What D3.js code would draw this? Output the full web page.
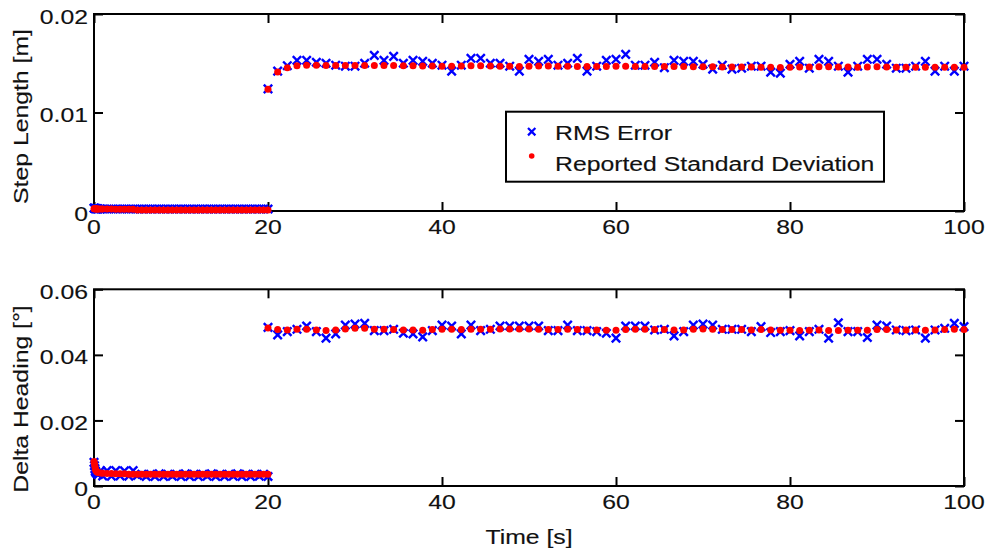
<!DOCTYPE html>
<html>
<head>
<meta charset="utf-8">
<script src="https://cdn.jsdelivr.net/npm/d3@7"></script>
<style>
  body { margin: 0; background: #fff; }
  text { font-family: "Liberation Sans", Arial, Helvetica, sans-serif; font-size: 21px; fill: #111; stroke: #111; stroke-width: 0.15px; }
</style>
</head>
<body>
<svg id="chart" width="989" height="554"></svg>
<script>
// ---- data ----
// dense start-up phase, 0..20 s
var timesStart = [0, 0.05, 0.1, 0.15, 0.2, 0.3, 0.4, 0.5, 0.75, 1,
  1.5, 2, 2.5, 3, 3.5, 4, 4.5, 5, 5.5, 6,
  6.5, 7, 7.5, 8, 8.5, 9, 9.5, 10, 10.5, 11,
  11.5, 12, 12.5, 13, 13.5, 14, 14.5, 15, 15.5, 16,
  16.5, 17, 17.5, 18, 18.5, 19, 19.5, 20];
// walking phase, one step every ~1.11 s
var timesWalk = [20, 21.11, 22.22, 23.33, 24.44, 25.56, 26.67, 27.78, 28.89, 30,
  31.11, 32.22, 33.33, 34.44, 35.56, 36.67, 37.78, 38.89, 40, 41.11,
  42.22, 43.33, 44.44, 45.56, 46.67, 47.78, 48.89, 50, 51.11, 52.22,
  53.33, 54.44, 55.56, 56.67, 57.78, 58.89, 60, 61.11, 62.22, 63.33,
  64.44, 65.56, 66.67, 67.78, 68.89, 70, 71.11, 72.22, 73.33, 74.44,
  75.56, 76.67, 77.78, 78.89, 80, 81.11, 82.22, 83.33, 84.44, 85.56,
  86.67, 87.78, 88.89, 90, 91.11, 92.22, 93.33, 94.44, 95.56, 96.67,
  97.78, 98.89, 100];

// step length [m]
var stepRmsStart = [0.0003, 0.00028, 0.00026, 0.00025, 0.00024, 0.00023, 0.00022, 0.00022, 0.00021, 0.00021,
  0.0002, 0.00021, 0.0002, 0.0002, 0.00021, 0.0002, 0.0002, 0.0002, 0.00021, 0.0002,
  0.0002, 0.0002, 0.00021, 0.0002, 0.0002, 0.0002, 0.0002, 0.00021, 0.0002, 0.0002,
  0.0002, 0.0002, 0.00021, 0.0002, 0.0002, 0.0002, 0.0002, 0.0002, 0.00021, 0.0002,
  0.0002, 0.0002, 0.0002, 0.0002, 0.00021, 0.0002, 0.0002, 0.0002];
var stepStdStart = [0.00024, 0.00023, 0.00022, 0.00022, 0.00022, 0.00021, 0.00021, 0.0002, 0.0002, 0.0002,
  0.0002, 0.0002, 0.00019, 0.00019, 0.00019, 0.00018, 0.00018, 0.00011, 0.0001, 0.0001,
  0.0001, 0.0001, 0.0001, 0.0001, 0.0001, 0.0001, 0.0001, 0.0001, 0.0001, 0.0001,
  0.0001, 0.0001, 0.0001, 0.0001, 0.0001, 0.0001, 0.0001, 0.0001, 0.0001, 0.0001,
  0.0001, 0.0001, 0.0001, 0.0001, 0.0001, 0.0001, 0.0001, 0.0001];
var stepRmsWalk = [0.0124, 0.0142, 0.01475, 0.0153, 0.0153, 0.0151, 0.0150, 0.0148, 0.0147, 0.0147,
  0.0150, 0.0158, 0.0153, 0.0157, 0.0150, 0.0153, 0.0152, 0.0150, 0.0148, 0.0142,
  0.0148, 0.0155, 0.0155, 0.0150, 0.0150, 0.0147, 0.0142, 0.0154, 0.0152, 0.0154,
  0.0148, 0.0150, 0.0155, 0.0142, 0.0147, 0.0153, 0.0154, 0.0159, 0.0148, 0.0148,
  0.0151, 0.01455, 0.0153, 0.0152, 0.0152, 0.0149, 0.0144, 0.0148, 0.0144, 0.0145,
  0.0147, 0.0147, 0.0141, 0.0140, 0.0149, 0.0152, 0.0145, 0.0154, 0.0152, 0.0147,
  0.0141, 0.0147, 0.0154, 0.0154, 0.0149, 0.0145, 0.0145, 0.0147, 0.0152, 0.0142,
  0.0147, 0.0142, 0.0147];
var stepStdWalk = [0.01236, 0.0141, 0.01455, 0.01475, 0.0148, 0.0148, 0.01478, 0.01478, 0.01476, 0.01476,
  0.01476, 0.01478, 0.01478, 0.01476, 0.01474, 0.01474, 0.01472, 0.01472, 0.0147, 0.0147,
  0.01472, 0.01474, 0.01474, 0.01472, 0.0147, 0.0147, 0.01468, 0.0147, 0.01472, 0.01472,
  0.0147, 0.0147, 0.01468, 0.01468, 0.01468, 0.01468, 0.0147, 0.0147, 0.01468, 0.01466,
  0.01466, 0.01466, 0.01466, 0.01466, 0.01464, 0.01464, 0.01464, 0.01462, 0.01462, 0.01462,
  0.01462, 0.0146, 0.0146, 0.01458, 0.0146, 0.01462, 0.01462, 0.01464, 0.01464, 0.01462,
  0.01462, 0.0146, 0.01462, 0.01464, 0.01462, 0.0146, 0.0146, 0.0146, 0.0146, 0.0146,
  0.0146, 0.0146, 0.0146];

// delta heading [deg]
var headRmsStart = [0.0072, 0.0062, 0.0053, 0.0046, 0.0042, 0.0039, 0.0037, 0.0035, 0.0046, 0.0031,
  0.0047, 0.0030, 0.0047, 0.0031, 0.0046, 0.0030, 0.0047, 0.0032, 0.0036, 0.0029,
  0.0036, 0.0029, 0.0037, 0.0029, 0.0036, 0.0030, 0.0036, 0.0029, 0.0037, 0.0029,
  0.0036, 0.0029, 0.0036, 0.0030, 0.0037, 0.0029, 0.0036, 0.0029, 0.0036, 0.0030,
  0.0037, 0.0029, 0.0036, 0.0029, 0.0036, 0.0030, 0.0036, 0.0029];
var headStdStart = [0.0075, 0.0068, 0.0060, 0.0053, 0.0048, 0.0044, 0.0042, 0.0041, 0.0040, 0.0039,
  0.0038, 0.0038, 0.0037, 0.0037, 0.0037, 0.0036, 0.0036, 0.0036, 0.0036, 0.0036,
  0.0036, 0.0036, 0.0036, 0.0036, 0.0036, 0.0036, 0.0036, 0.0036, 0.0036, 0.0036,
  0.0036, 0.0036, 0.0036, 0.0036, 0.0036, 0.0036, 0.0036, 0.0036, 0.0036, 0.0036,
  0.0036, 0.0036, 0.0036, 0.0036, 0.0036, 0.0036, 0.0036, 0.0036];
var headRmsWalk = [0.0484, 0.0461, 0.0471, 0.0478, 0.0488, 0.0471, 0.0451, 0.0464, 0.0491, 0.0494,
  0.0496, 0.0474, 0.0474, 0.0478, 0.0466, 0.0464, 0.0455, 0.0474, 0.0491, 0.0488,
  0.0464, 0.0491, 0.0474, 0.0478, 0.0488, 0.0488, 0.0488, 0.0488, 0.0488, 0.0474,
  0.0474, 0.0491, 0.0474, 0.0474, 0.0471, 0.0466, 0.0451, 0.0488, 0.0488, 0.0488,
  0.0476, 0.0478, 0.0458, 0.0471, 0.0491, 0.0494, 0.0491, 0.0478, 0.0478, 0.0478,
  0.0471, 0.0486, 0.0468, 0.0471, 0.0474, 0.0458, 0.0471, 0.0478, 0.0451, 0.0498,
  0.0471, 0.0471, 0.0453, 0.0491, 0.0488, 0.0476, 0.0474, 0.0476, 0.0451, 0.0476,
  0.0481, 0.0496, 0.0486];
var headStdWalk = [0.0482, 0.0477, 0.0476, 0.0478, 0.0478, 0.0476, 0.0474, 0.0476, 0.0479, 0.0481,
  0.0481, 0.0478, 0.0478, 0.0477, 0.0476, 0.0476, 0.0475, 0.0477, 0.0478, 0.0478,
  0.0477, 0.0478, 0.0478, 0.0478, 0.0479, 0.0479, 0.0479, 0.0479, 0.0478, 0.0477,
  0.0477, 0.0478, 0.0477, 0.0476, 0.0476, 0.0475, 0.0475, 0.0477, 0.0478, 0.0478,
  0.0477, 0.0477, 0.0476, 0.0476, 0.0478, 0.0479, 0.0478, 0.0477, 0.0477, 0.0477,
  0.0476, 0.0477, 0.0476, 0.0475, 0.0475, 0.0474, 0.0475, 0.0476, 0.0474, 0.0474,
  0.0475, 0.0475, 0.0475, 0.0477, 0.0477, 0.0476, 0.0476, 0.0476, 0.0475, 0.0476,
  0.0477, 0.0478, 0.0477];

var xTicks = [0, 20, 40, 60, 80, 100];
var stepTicks = [0, 0.01, 0.02];
var headTicks = [0, 0.02, 0.04, 0.06];
var legendLabels = ["RMS Error", "Reported Standard Deviation"];

// ---- layout ----
var svg = d3.select("#chart");
var stretch = 1.18; // the original font is wider than Arial
var xScale = d3.scaleLinear().domain([0, 100]).range([94, 964]);
var yStep = d3.scaleLinear().domain([0, 0.02]).range([211, 14]);
var yHead = d3.scaleLinear().domain([0, 0.06]).range([486, 289.3]);

function pairs(t, v) { return t.map(function (d, i) { return [d, v[i]]; }); }

function label(x, y, txt, anchor, rot) {
  svg.append("text")
    .attr("transform", "translate(" + x + "," + y + ") rotate(" + (rot || 0) + ") scale(" + stretch + ",1)")
    .attr("text-anchor", anchor)
    .text(txt);
}

function panel(yScale, yTicks, fmt) {
  var g = svg.append("g");
  var y0 = yScale.range()[0], y1 = yScale.range()[1];
  // inward ticks on all four sides
  g.append("g").attr("transform", "translate(0," + y0 + ")")
    .call(d3.axisBottom(xScale).tickValues(xTicks).tickSize(-9).tickFormat(""));
  g.append("g").attr("transform", "translate(0," + y1 + ")")
    .call(d3.axisTop(xScale).tickValues(xTicks).tickSize(-9).tickFormat(""));
  g.append("g").attr("transform", "translate(94,0)")
    .call(d3.axisLeft(yScale).tickValues(yTicks).tickSize(-9).tickFormat(""));
  g.append("g").attr("transform", "translate(964,0)")
    .call(d3.axisRight(yScale).tickValues(yTicks).tickSize(-9).tickFormat(""));
  g.selectAll(".domain").remove();
  g.selectAll(".tick line").attr("stroke", "#000").attr("stroke-width", 2);
  g.append("rect")
    .attr("x", 94).attr("y", y1)
    .attr("width", 870).attr("height", y0 - y1)
    .attr("fill", "none").attr("stroke", "#000").attr("stroke-width", 2);

  yTicks.forEach(function (d) { label(88, yScale(d) + 9.5, fmt(d), "end"); });
  xTicks.forEach(function (d) { label(xScale(d), y0 + 23, d, "middle"); });
  return g;
}

function crosses(g, data, yScale) {
  g.selectAll(null).data(data).enter().append("path")
    .attr("transform", function (d) { return "translate(" + xScale(d[0]) + "," + yScale(d[1]) + ")"; })
    .attr("d", "M-4.2,-4.2L4.2,4.2M-4.2,4.2L4.2,-4.2")
    .attr("stroke", "#0000ff").attr("stroke-width", 2.4).attr("fill", "none");
}

function dots(g, data, yScale) {
  g.selectAll(null).data(data).enter().append("circle")
    .attr("cx", function (d) { return xScale(d[0]); })
    .attr("cy", function (d) { return yScale(d[1]); })
    .attr("r", 3.5).attr("fill", "#ff0000");
}

var fmtTick = function (d) { return d === 0 ? "0" : d3.format(".2f")(d); };

// step length panel
var stepPanel = panel(yStep, stepTicks, fmtTick);
crosses(stepPanel, pairs(timesStart, stepRmsStart).concat(pairs(timesWalk, stepRmsWalk)), yStep);
dots(stepPanel, pairs(timesStart, stepStdStart).concat(pairs(timesWalk, stepStdWalk)), yStep);

// delta heading panel
var headPanel = panel(yHead, headTicks, fmtTick);
crosses(headPanel, pairs(timesStart, headRmsStart).concat(pairs(timesWalk, headRmsWalk)), yHead);
dots(headPanel, pairs(timesStart, headStdStart).concat(pairs(timesWalk, headStdWalk)), yHead);

// axis titles
label(27.5, 116.5, "Step Length [m]", "middle", -90);
label(27.5, 399, "Delta Heading [°]", "middle", -90);
label(529, 544, "Time [s]", "middle");

// legend
var lg = svg.append("g");
lg.append("rect").attr("x", 506).attr("y", 111.7).attr("width", 378).attr("height", 70)
  .attr("fill", "#fff").attr("stroke", "#000").attr("stroke-width", 2);
lg.append("path").attr("transform", "translate(531.7,131.7)")
  .attr("d", "M-3.7,-3.7L3.7,3.7M-3.7,3.7L3.7,-3.7")
  .attr("stroke", "#0000ff").attr("stroke-width", 2.2);
lg.append("circle").attr("cx", 531.7).attr("cy", 156).attr("r", 2.8).attr("fill", "#ff0000");
label(555, 140, legendLabels[0], "start");
label(555, 170.5, legendLabels[1], "start");
</script>
</body>
</html>
